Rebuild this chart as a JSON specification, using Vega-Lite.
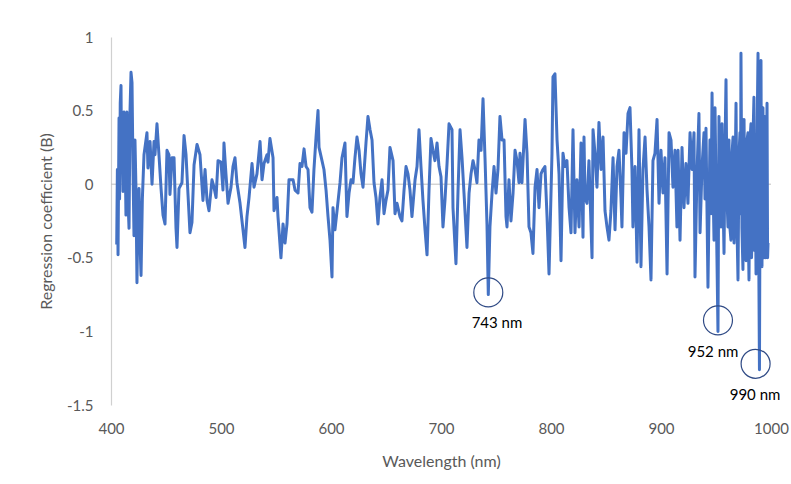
{
  "$schema": "https://vega.github.io/schema/vega-lite/v6.json",
  "autosize": "none",
  "width": 660,
  "height": 368,
  "padding": {"left": 111, "top": 37, "right": 20, "bottom": 79},
  "background": "white",
  "config": {"view": {"stroke": null}, "font": "Lato"},
  "datasets": {
    "spectrum": [
      {"wl":405.2,"b":-0.41},{"wl":405.8,"b":0.1},{"wl":406.4,"b":-0.48},{"wl":407.3,"b":0.45},{"wl":407.8,"b":-0.1},{"wl":408.4,"b":0.55},{"wl":409.1,"b":0.67},{"wl":409.6,"b":0.1},{"wl":410,"b":0.47},{"wl":410.9,"b":-0.05},{"wl":411.8,"b":0.49},{"wl":412.7,"b":0.3},{"wl":413.6,"b":-0.21},{"wl":414.5,"b":0.49},{"wl":415.4,"b":-0.1},{"wl":416.4,"b":-0.3},{"wl":417.3,"b":0.5},{"wl":418.2,"b":0.76},{"wl":419.1,"b":0.69},{"wl":420,"b":0.1},{"wl":420.9,"b":-0.35},{"wl":421.8,"b":0.3},{"wl":422.7,"b":-0.03},{"wl":423.6,"b":-0.67},{"wl":424.5,"b":-0.2},{"wl":425.5,"b":-0.03},{"wl":426.4,"b":-0.4},{"wl":427.3,"b":-0.62},{"wl":428.5,"b":-0.1},{"wl":430,"b":0.2},{"wl":432.7,"b":0.35},{"wl":433.6,"b":0.11},{"wl":435.5,"b":0.29},{"wl":437.3,"b":0},{"wl":439.1,"b":0.29},{"wl":440,"b":0.2},{"wl":441.8,"b":0.41},{"wl":443.6,"b":0.2},{"wl":445.5,"b":-0.03},{"wl":447.3,"b":-0.21},{"wl":449.1,"b":-0.27},{"wl":450.9,"b":0.23},{"wl":452.7,"b":0.2},{"wl":453.6,"b":-0.07},{"wl":455.5,"b":0.18},{"wl":457.3,"b":0.18},{"wl":459.1,"b":-0.3},{"wl":460,"b":-0.43},{"wl":461.8,"b":-0.03},{"wl":464.5,"b":0.01},{"wl":466.4,"b":0.33},{"wl":468.2,"b":0.2},{"wl":470,"b":-0.07},{"wl":471.8,"b":-0.33},{"wl":473.6,"b":-0.26},{"wl":475.5,"b":0.13},{"wl":478.2,"b":0.27},{"wl":480.9,"b":0.2},{"wl":483.6,"b":-0.11},{"wl":485.5,"b":0.1},{"wl":487.3,"b":-0.11},{"wl":489.1,"b":-0.18},{"wl":491.8,"b":0.03},{"wl":493.6,"b":-0.02},{"wl":495.5,"b":-0.09},{"wl":497.3,"b":0.16},{"wl":500,"b":0.15},{"wl":501.8,"b":-0.04},{"wl":502.7,"b":0.28},{"wl":504.5,"b":0.07},{"wl":506.4,"b":-0.13},{"wl":509.1,"b":-0.02},{"wl":510.9,"b":0.12},{"wl":512.7,"b":0.18},{"wl":514.5,"b":0.01},{"wl":517.3,"b":-0.13},{"wl":520,"b":-0.31},{"wl":521.8,"b":-0.43},{"wl":523.6,"b":-0.22},{"wl":525.5,"b":-0.09},{"wl":528.2,"b":0.14},{"wl":530,"b":-0.02},{"wl":532.7,"b":0.07},{"wl":535.5,"b":0.29},{"wl":537.3,"b":0.03},{"wl":539.1,"b":0.14},{"wl":541.8,"b":0.2},{"wl":542.7,"b":0.15},{"wl":544.5,"b":0.31},{"wl":547.3,"b":0.18},{"wl":548.2,"b":-0.18},{"wl":550.9,"b":-0.09},{"wl":551.8,"b":-0.22},{"wl":554.5,"b":-0.5},{"wl":556.4,"b":-0.27},{"wl":558.2,"b":-0.4},{"wl":560,"b":-0.27},{"wl":561.8,"b":0.03},{"wl":565.5,"b":0.03},{"wl":567.3,"b":-0.04},{"wl":570,"b":-0.06},{"wl":571.8,"b":0.14},{"wl":573.6,"b":0.12},{"wl":575.5,"b":0.24},{"wl":577.3,"b":0.12},{"wl":579.1,"b":0.1},{"wl":580.9,"b":-0.16},{"wl":582.7,"b":-0.19},{"wl":584.5,"b":0.1},{"wl":586.4,"b":0.32},{"wl":588.2,"b":0.5},{"wl":589.1,"b":0.25},{"wl":591.8,"b":0.16},{"wl":593.6,"b":0.1},{"wl":595.5,"b":-0.04},{"wl":597.3,"b":-0.22},{"wl":599.1,"b":-0.38},{"wl":600.9,"b":-0.63},{"wl":601.8,"b":-0.16},{"wl":603.6,"b":-0.31},{"wl":605.5,"b":-0.18},{"wl":608.2,"b":0.01},{"wl":610,"b":0.18},{"wl":612.7,"b":0.28},{"wl":614.5,"b":-0.22},{"wl":616.4,"b":-0.06},{"wl":618.2,"b":0.03},{"wl":620,"b":0.01},{"wl":621.8,"b":0.18},{"wl":623.6,"b":0.32},{"wl":625.5,"b":0.23},{"wl":627.3,"b":0.07},{"wl":629.1,"b":-0.02},{"wl":631.8,"b":0.28},{"wl":633.6,"b":0.46},{"wl":635.5,"b":0.37},{"wl":637.3,"b":0.3},{"wl":639.1,"b":0.01},{"wl":640.9,"b":-0.09},{"wl":642.7,"b":-0.27},{"wl":644.5,"b":-0.09},{"wl":646.4,"b":0.03},{"wl":648.2,"b":-0.2},{"wl":650,"b":-0.11},{"wl":651.8,"b":-0.04},{"wl":653.6,"b":0.25},{"wl":656.4,"b":0.16},{"wl":658.2,"b":-0.2},{"wl":660,"b":-0.13},{"wl":662.7,"b":-0.22},{"wl":664.5,"b":-0.25},{"wl":666.4,"b":-0.04},{"wl":668.2,"b":0.12},{"wl":670,"b":0.07},{"wl":671.8,"b":-0.04},{"wl":673.6,"b":-0.22},{"wl":676.4,"b":0.03},{"wl":678.2,"b":0.12},{"wl":680,"b":0.37},{"wl":681.8,"b":0.12},{"wl":683.6,"b":-0.11},{"wl":685.5,"b":-0.31},{"wl":687.3,"b":-0.48},{"wl":689.1,"b":-0.04},{"wl":690.9,"b":0.31},{"wl":692.7,"b":0.23},{"wl":694.5,"b":0.16},{"wl":696.4,"b":0.28},{"wl":698.2,"b":0.12},{"wl":700,"b":0.05},{"wl":701.8,"b":-0.29},{"wl":703.6,"b":-0.11},{"wl":705.5,"b":0.14},{"wl":707.3,"b":0.41},{"wl":710,"b":0.37},{"wl":710.9,"b":-0.16},{"wl":713.6,"b":-0.54},{"wl":715.5,"b":-0.04},{"wl":717.3,"b":0.37},{"wl":719.1,"b":0.18},{"wl":720.9,"b":-0.06},{"wl":723.6,"b":-0.43},{"wl":725.5,"b":-0.06},{"wl":727.3,"b":0.07},{"wl":729.1,"b":0.16},{"wl":730.9,"b":0.1},{"wl":732.7,"b":0.01},{"wl":734.5,"b":0.3},{"wl":736.4,"b":0.23},{"wl":738.2,"b":0.58},{"wl":740,"b":0.18},{"wl":741.8,"b":-0.27},{"wl":743,"b":-0.75},{"wl":744.5,"b":-0.29},{"wl":746.4,"b":-0.06},{"wl":748.2,"b":0.12},{"wl":750,"b":-0.06},{"wl":751.8,"b":0.1},{"wl":753.6,"b":0.46},{"wl":755.5,"b":0.3},{"wl":757.3,"b":0.3},{"wl":759.1,"b":-0.22},{"wl":760,"b":-0.29},{"wl":761.8,"b":0.03},{"wl":763.6,"b":-0.25},{"wl":765.5,"b":-0.06},{"wl":767.3,"b":0.23},{"wl":769.1,"b":0.16},{"wl":770.9,"b":0.01},{"wl":771.8,"b":0.21},{"wl":773.6,"b":0.01},{"wl":776.4,"b":0.44},{"wl":778.2,"b":0.21},{"wl":780,"b":-0.29},{"wl":781.8,"b":-0.33},{"wl":783.6,"b":-0.47},{"wl":785.5,"b":-0.02},{"wl":787.3,"b":0.1},{"wl":789.1,"b":-0.16},{"wl":790.9,"b":0.07},{"wl":792.7,"b":0.1},{"wl":794.5,"b":0.12},{"wl":796.4,"b":-0.22},{"wl":798.2,"b":-0.61},{"wl":800.9,"b":0.21},{"wl":801.8,"b":0.73},{"wl":803.6,"b":0.75},{"wl":805.5,"b":0.3},{"wl":807.3,"b":0.07},{"wl":809.1,"b":-0.52},{"wl":810.9,"b":0.21},{"wl":812.7,"b":0.12},{"wl":814.5,"b":0.16},{"wl":816.4,"b":-0.16},{"wl":818.2,"b":-0.33},{"wl":820,"b":0.37},{"wl":821.8,"b":-0.33},{"wl":823.6,"b":0.03},{"wl":825.5,"b":-0.29},{"wl":827.3,"b":0.28},{"wl":829.1,"b":-0.36},{"wl":830,"b":0.32},{"wl":830.9,"b":-0.09},{"wl":832.7,"b":-0.13},{"wl":834.5,"b":0.16},{"wl":837.3,"b":-0.5},{"wl":838.2,"b":0.37},{"wl":840,"b":0.21},{"wl":841.8,"b":-0.02},{"wl":843.6,"b":0.42},{"wl":845.5,"b":0.1},{"wl":847.3,"b":0.32},{"wl":849.1,"b":-0.18},{"wl":850.9,"b":-0.29},{"wl":852.7,"b":-0.38},{"wl":854.5,"b":-0.18},{"wl":856.4,"b":0.18},{"wl":858.2,"b":-0.31},{"wl":860,"b":0.12},{"wl":861.8,"b":0.23},{"wl":863.6,"b":-0.09},{"wl":864.5,"b":-0.29},{"wl":866.4,"b":0.35},{"wl":868.2,"b":0.21},{"wl":870,"b":0.48},{"wl":871.8,"b":0.52},{"wl":873.6,"b":0.1},{"wl":874.5,"b":-0.29},{"wl":876.4,"b":0.12},{"wl":878.2,"b":-0.53},{"wl":880,"b":0.37},{"wl":881.8,"b":-0.56},{"wl":883.6,"b":0.1},{"wl":885.5,"b":0.32},{"wl":887.3,"b":-0.04},{"wl":889.1,"b":-0.29},{"wl":890.9,"b":-0.65},{"wl":892.7,"b":0.16},{"wl":894.5,"b":0.21},{"wl":896.4,"b":0.44},{"wl":898.2,"b":-0.13},{"wl":900,"b":0.23},{"wl":901.8,"b":-0.06},{"wl":903.6,"b":0.18},{"wl":905.5,"b":-0.61},{"wl":907.3,"b":0.35},{"wl":909.1,"b":0.3},{"wl":910.9,"b":-0.02},{"wl":912.7,"b":0.23},{"wl":914.5,"b":-0.29},{"wl":915.5,"b":0.23},{"wl":917.3,"b":-0.38},{"wl":919.1,"b":0.25},{"wl":920.9,"b":-0.16},{"wl":922.7,"b":0.14},{"wl":924.5,"b":-0.13},{"wl":926.4,"b":0.35},{"wl":928.2,"b":0.1},{"wl":930,"b":0.35},{"wl":930.9,"b":-0.63},{"wl":932.7,"b":0.07},{"wl":934.5,"b":0.48},{"wl":935.5,"b":-0.33},{"wl":937.3,"b":0.12},{"wl":939.1,"b":0.35},{"wl":940,"b":-0.1},{"wl":940.9,"b":0.38},{"wl":942.7,"b":-0.7},{"wl":944.5,"b":0.3},{"wl":945.5,"b":-0.2},{"wl":946.4,"b":0.62},{"wl":947.3,"b":0.0},{"wl":948.2,"b":-0.38},{"wl":949.1,"b":0.52},{"wl":950.5,"b":-0.3},{"wl":951.8,"b":-1.0},{"wl":952.7,"b":0.46},{"wl":953.6,"b":-0.2},{"wl":954.5,"b":-0.29},{"wl":955,"b":0.2},{"wl":955.5,"b":0.41},{"wl":956.4,"b":-0.1},{"wl":957.3,"b":-0.47},{"wl":958.2,"b":0.25},{"wl":959.1,"b":0.71},{"wl":960,"b":-0.1},{"wl":960.9,"b":-0.29},{"wl":961.4,"b":0.15},{"wl":961.8,"b":0.3},{"wl":962.7,"b":-0.3},{"wl":963.6,"b":-0.38},{"wl":964.5,"b":0.2},{"wl":965.5,"b":0.32},{"wl":966.4,"b":-0.4},{"wl":967.3,"b":-0.18},{"wl":967.8,"b":0.3},{"wl":968.2,"b":0.55},{"wl":969.1,"b":-0.3},{"wl":970,"b":-0.65},{"wl":970.9,"b":0.2},{"wl":971.8,"b":0.35},{"wl":972.3,"b":-0.2},{"wl":972.7,"b":0.89},{"wl":973.6,"b":-0.3},{"wl":974.5,"b":-0.58},{"wl":975,"b":0.25},{"wl":975.5,"b":0.44},{"wl":976.4,"b":-0.4},{"wl":977.3,"b":-0.52},{"wl":978.2,"b":0.3},{"wl":979.1,"b":0.35},{"wl":979.6,"b":-0.45},{"wl":980,"b":-0.65},{"wl":980.9,"b":0.3},{"wl":981.8,"b":0.41},{"wl":982.3,"b":-0.5},{"wl":982.7,"b":-0.38},{"wl":983.6,"b":0.3},{"wl":984.5,"b":0.59},{"wl":985,"b":-0.45},{"wl":985.5,"b":0.2},{"wl":986.4,"b":-0.61},{"wl":987.3,"b":0.3},{"wl":988.2,"b":0.89},{"wl":988.8,"b":-0.4},{"wl":989.5,"b":-1.26},{"wl":990.2,"b":0.3},{"wl":990.9,"b":0.84},{"wl":991.4,"b":-0.3},{"wl":991.8,"b":-0.56},{"wl":992.3,"b":0.3},{"wl":992.7,"b":0.52},{"wl":993.2,"b":-0.45},{"wl":993.6,"b":-0.5},{"wl":994.1,"b":0.3},{"wl":994.5,"b":0.46},{"wl":995,"b":-0.5},{"wl":995.5,"b":-0.45},{"wl":996,"b":0.3},{"wl":996.4,"b":0.55},{"wl":996.9,"b":-0.5},{"wl":997.3,"b":-0.4}
    ],
    "notes": [
      {"wl":743,"b":-0.735,"lx":750.9,"ly":-0.946,"label":"743 nm"},
      {"wl":951.8,"b":-0.925,"lx":947.3,"ly":-1.143,"label":"952 nm"},
      {"wl":986,"b":-1.22,"lx":985.5,"ly":-1.435,"label":"990 nm"}
    ]
  },
  "layer": [
    {
      "data": {"values": [{"z": 0}]},
      "mark": {"type": "rule", "color": "#BFBFBF", "strokeWidth": 1},
      "encoding": {"y": {"field": "z", "type": "quantitative", "scale": {"domain": [-1.5, 1]}}}
    },
    {
      "data": {"name": "spectrum"},
      "mark": {"type": "line", "color": "#4472C4", "strokeWidth": 3, "strokeJoin": "round"},
      "encoding": {
        "x": {
          "field": "wl", "type": "quantitative",
          "scale": {"domain": [400, 1000], "nice": false, "zero": false},
          "axis": {
            "title": "Wavelength (nm)", "values": [400, 500, 600, 700, 800, 900, 1000],
            "labelExpr": "'' + datum.value", "labelFlush": false,
            "domain": false, "ticks": false, "grid": false,
            "labelFontSize": 15, "labelColor": "#595959", "labelPadding": 16, "labelFont": "Lato",
            "titleFontSize": 16, "titleColor": "#595959", "titleFontWeight": "normal", "titlePadding": 17, "titleFont": "Lato"
          }
        },
        "y": {
          "field": "b", "type": "quantitative",
          "scale": {"domain": [-1.5, 1], "nice": false, "zero": false},
          "axis": {
            "title": "Regression coefficient (B)", "values": [-1.5, -1, -0.5, 0, 0.5, 1],
            "labelExpr": "'' + datum.value", "labelFlush": false,
            "domain": true, "domainColor": "#D0D0D0", "domainWidth": 1.2, "ticks": false, "grid": false,
            "labelFontSize": 15, "labelColor": "#595959", "labelPadding": 18, "labelFont": "Lato",
            "titleFontSize": 16, "titleColor": "#595959", "titleFontWeight": "normal", "titlePadding": 12, "titleFont": "Lato"
          }
        }
      }
    },
    {
      "data": {"name": "notes"},
      "mark": {"type": "point", "shape": "circle", "filled": false, "size": 840, "stroke": "#2F4A85", "strokeWidth": 1.2, "opacity": 1},
      "encoding": {
        "x": {"field": "wl", "type": "quantitative"},
        "y": {"field": "b", "type": "quantitative"}
      }
    },
    {
      "data": {"name": "notes"},
      "mark": {"type": "text", "fontSize": 15, "font": "Lato", "color": "#000000", "align": "center", "baseline": "middle", "clip": false},
      "encoding": {
        "x": {"field": "lx", "type": "quantitative"},
        "y": {"field": "ly", "type": "quantitative"},
        "text": {"field": "label"}
      }
    }
  ]
}
